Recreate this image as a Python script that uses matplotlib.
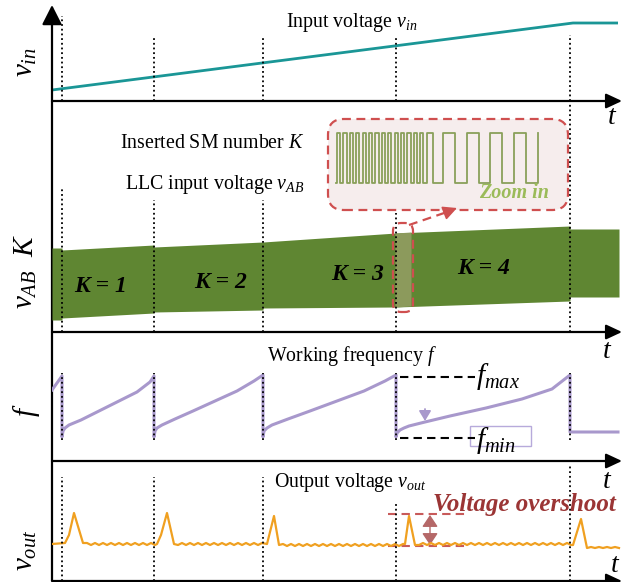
import matplotlib
matplotlib.use('Agg')
import matplotlib.pyplot as plt
from matplotlib.patches import FancyBboxPatch, Rectangle

plt.rcParams['font.family'] = ['Liberation Serif', 'DejaVu Serif']
plt.rcParams['mathtext.fontset'] = 'custom'
plt.rcParams['mathtext.rm'] = 'Liberation Serif'
plt.rcParams['mathtext.it'] = 'Liberation Serif:italic'
plt.rcParams['mathtext.bf'] = 'Liberation Serif:bold:italic'

# ---------------- data (arbitrary schematic units) ----------------
t_switch = [10, 102, 211, 344, 518]

# panel 1 : input voltage
vin_t = [0, 521, 566]
vin_v = [11, 78, 78]
p1_dot_top = [85, 65, 65, 65, 66]

# panel 2 : LLC input voltage band / inserted SM number
vab_t = [0, 10, 10, 102, 102, 211, 211, 344, 344, 518, 518, 567]
vab_top = [84, 84, 82, 87, 85, 90, 90, 99, 99, 106, 103, 103]
vab_bot = [12, 12, 14, 19, 20, 22, 24, 25, 25, 31, 35, 35]
hl_t = [343, 359]
hl_top = [99, 100]
hl_bot = [25, 26]
K_text = ['K = 1', 'K = 2', 'K = 3', 'K = 4']
K_t = [49, 169, 306, 432]
K_v = [45, 50, 57, 64]
p2_dot_top = [145, 132, 132, 119, 231]
SQ_HI, SQ_LO = 199, 149
sq_edges = [284, 285, 288.2, 291.4, 294.6, 297.8, 301, 304.2, 307.4, 310.6, 313.8,
            317, 320.2, 323.4, 326.6, 329.8, 333, 336.2, 339.4, 342.6, 345.8,
            349, 352.2, 355.4, 358.6, 361.8, 365, 368.2, 371.4, 374.6, 381,
            391, 403, 415, 427, 438, 450, 462, 474, 486]
sq_state = ['L', 'H', 'L', 'H', 'L', 'H', 'L', 'H', 'L', 'H', 'L',
            'H', 'L', 'H', 'L', 'H', 'L', 'H', 'L', 'H', 'L',
            'H', 'L', 'H', 'L', 'H', 'L', 'H', 'L', 'H', 'L',
            'H', 'L', 'H', 'L', 'H', 'L', 'H', 'L', 'H']

# panel 3 : working frequency
f_t = [0, 10, 10, 11, 13, 17, 29, 45, 65, 85, 98, 102,
       102, 103, 105, 110, 123, 141, 163, 185, 202, 211,
       211, 212, 215, 220, 236, 258, 285, 312, 333, 344,
       344, 345, 348, 352, 357, 373, 398, 434, 470, 500, 518,
       518, 566]
f_v = [71, 85, 24, 30, 33, 36, 41, 49, 59, 69, 79, 85,
       24, 30, 33, 36, 42, 50, 60, 70, 80, 86,
       24, 30, 33, 36, 42, 50, 60, 70, 80, 86,
       24, 28, 31, 33, 35, 39, 45, 53, 62, 72, 86,
       29, 29]
f_max_v, f_min_v = 84, 23

# panel 4 : output voltage
vout_t = [0, 13, 17, 22, 31,
          35, 39, 43, 47, 51, 55, 59, 63, 67, 71, 75, 79, 83, 87, 91, 95, 99, 103,
          105, 109, 115, 122,
          126, 130, 134, 138, 142, 146, 150, 154, 158, 162, 166, 170, 174, 178, 182,
          186, 190, 194, 198, 202, 206, 210,
          215, 222, 227,
          231, 235, 239, 243, 247, 251, 255, 259, 263, 267, 271, 275, 279, 283, 287,
          291, 295, 299, 303, 307, 311, 315, 319, 323, 327, 331, 335, 339, 343, 347, 351,
          353, 357, 363,
          367, 371, 375, 379, 383, 387, 391, 395, 399, 403, 407, 411, 415, 419, 423,
          427, 431, 435, 439, 443, 447, 451, 455, 459, 463, 467, 471, 475, 479, 483,
          487, 491, 495, 499, 503, 507, 511, 515, 519,
          521, 529, 535,
          539, 543, 547, 551, 555, 559, 563, 567]
vout_v = [37, 38, 46, 68, 38,
          38, 36, 38, 36, 38, 36, 38, 36, 38, 36, 38, 36, 38, 36, 38, 36, 38, 36,
          37, 46, 68, 37,
          36, 38, 36, 38, 36, 38, 36, 38, 36, 38, 36, 38, 36, 38, 36,
          38, 36, 38, 36, 38, 36, 38,
          37, 65, 36,
          37, 35, 37, 35, 37, 35, 37, 35, 37, 35, 37, 35, 37, 35, 37,
          35, 37, 35, 37, 35, 37, 35, 37, 35, 37, 35, 37, 35, 37, 35, 37,
          37, 65, 36,
          36, 38, 36, 38, 36, 38, 36, 38, 36, 38, 36, 38, 36, 38, 36,
          38, 36, 38, 36, 38, 36, 38, 36, 38, 36, 38, 36, 38, 36, 38,
          36, 38, 36, 38, 36, 38, 36, 38, 36,
          36, 62, 33,
          34, 33, 34, 33, 34, 33, 34, 33]
p4_dot_top = [104, 104, 104, 79, 116]
os_top, os_bot = 67, 35

# ---------------- figure ----------------
W, H = 634, 582
fig = plt.figure(figsize=(W / 100, H / 100), dpi=100)

def px_axes(y0, y1, x0=52, x1=622):
    ax = fig.add_axes([x0 / W, 1 - y1 / H, (x1 - x0) / W, (y1 - y0) / H])
    ax.set_xlim(0, x1 - x0)
    ax.set_ylim(0, y1 - y0)
    for s in ax.spines.values():
        s.set_visible(False)
    ax.set_xticks([]); ax.set_yticks([])
    ax.patch.set_alpha(0)
    return ax

def ftext(x, y, s, **kw):
    fig.text(x / W, 1 - y / H, s, **kw)

ax1 = px_axes(5, 101)
ax2 = px_axes(101, 332)
ax3 = px_axes(332, 461)
ax4 = px_axes(461, 581)

harrow = dict(arrowstyle='-|>,head_length=0.6,head_width=0.28', mutation_scale=16,
              color='k', lw=1.6, shrinkA=0, shrinkB=0)
for ax in (ax1, ax2, ax3, ax4):
    ax.annotate('', xy=(1.0, 0), xytext=(0, 0), xycoords='axes fraction',
                arrowprops=harrow, annotation_clip=False)
for ax in (ax2, ax3, ax4):
    ax.plot([0, 0], [0, 1], color='k', lw=1.6, transform=ax.transAxes,
            clip_on=False, solid_capstyle='butt')
ax1.annotate('', xy=(0, 1.0), xytext=(0, 0), xycoords='axes fraction',
             arrowprops=dict(arrowstyle='-|>,head_length=0.75,head_width=0.38',
                             mutation_scale=16, color='k', lw=1.6, shrinkA=0, shrinkB=0),
             annotation_clip=False)

dot = dict(color='k', lw=1.3, linestyle=(0, (1, 1.6)), zorder=6)
FS = 14.3

# panel 1
ax1.plot(vin_t, vin_v, color='#1a9696', lw=2.0, solid_capstyle='butt')
for t, top in zip(t_switch, p1_dot_top):
    ax1.plot([t, t], [0, top], **dot)
ax1.text(300, 79, 'Input voltage $v_{in}$', fontsize=FS, ha='center', va='center')

# panel 2
ax2.fill_between(vab_t, vab_bot, vab_top, color='#5f8632', lw=0, zorder=2)
ax2.fill_between(hl_t, hl_bot, hl_top, color='#8c9a5c', lw=0, zorder=3)
for t, top in zip(t_switch, p2_dot_top):
    ax2.plot([t, t], [0, top], **dot)
for s, t, v in zip(K_text, K_t, K_v):
    ax2.text(t, v, s, fontsize=17, fontweight='bold', style='italic',
             ha='center', va='center', zorder=7)
ax2.text(252, 189, 'Inserted SM number $K$', fontsize=FS, ha='right', va='center')
ax2.text(252, 147, 'LLC input voltage $v_{AB}$', fontsize=FS, ha='right', va='center')

red = '#cf4f4f'
zbox = FancyBboxPatch((276, 122), 240, 91, boxstyle='round,pad=0,rounding_size=16',
                      facecolor='#f6eded', edgecolor=red, lw=1.6,
                      linestyle=(0, (4, 2.5)), zorder=4)
ax2.add_patch(zbox)
hbox = FancyBboxPatch((341, 20), 20, 89, boxstyle='round,pad=0,rounding_size=8',
                      facecolor='none', edgecolor=red, lw=1.6,
                      linestyle=(0, (4, 2.5)), zorder=8)
ax2.add_patch(hbox)
sq_v = [SQ_HI if s == 'H' else SQ_LO for s in sq_state]
ax2.plot(sq_edges, sq_v, drawstyle='steps-post', color='#8aa05a', lw=1.3, zorder=5)
ax2.text(462, 139, 'Zoom in', fontsize=14.5, fontweight='bold', style='italic',
         color='#9bbb59', ha='center', va='center', zorder=6)
ax2.plot([357, 398], [107, 121], color=red, lw=1.6, linestyle=(0, (4, 2.5)), zorder=8)
ax2.annotate('', xy=(405, 124), xytext=(396, 120.5),
             arrowprops=dict(arrowstyle='-|>,head_length=0.6,head_width=0.3',
                             mutation_scale=14, color=red, lw=1.2, shrinkA=0, shrinkB=0),
             zorder=8)

# panel 3
purple = '#a898cc'
ax3.plot(f_t, f_v, color=purple, lw=2.2, zorder=4)
for t in t_switch:
    ax3.plot([t, t], [21, 88], **dot)
ax3.plot([348, 423], [f_max_v, f_max_v], color='k', lw=1.5, linestyle=(0, (4, 2.5)))
ax3.plot([348, 423], [f_min_v, f_min_v], color='k', lw=1.5, linestyle=(0, (4, 2.5)))
ax3.text(424, f_max_v, '$f_{max}$', fontsize=21, ha='left', va='center')
ax3.text(424, f_min_v - 3, '$f_{min}$', fontsize=21, ha='left', va='center')
ax3.add_patch(Rectangle((418, 15), 61, 20, facecolor='none', edgecolor='#b7aadb', lw=1.0))
ax3.annotate('', xy=(373, 40), xytext=(373, 52),
             arrowprops=dict(arrowstyle='-|>,head_length=0.5,head_width=0.3',
                             mutation_scale=12, color=purple, lw=1.3, shrinkA=0, shrinkB=0))
ax3.text(300, 105, 'Working frequency $f$', fontsize=FS, ha='center', va='center')

# panel 4
ax4.plot(vout_t, vout_v, color='#f0a020', lw=1.6, zorder=4)
for t, top in zip(t_switch, p4_dot_top):
    ax4.plot([t, t], [0, top], **dot)
dred = '#c85a5a'
ax4.plot([336, 413], [os_top, os_top], color=dred, lw=1.5, linestyle=(0, (4, 2.5)))
ax4.plot([336, 413], [os_bot, os_bot], color=dred, lw=1.5, linestyle=(0, (4, 2.5)))
ax4.annotate('', xy=(378, os_top - 1), xytext=(378, os_bot + 1),
             arrowprops=dict(arrowstyle='<|-|>,head_length=0.6,head_width=0.4',
                             mutation_scale=12, color='#b56868', lw=1.0, shrinkA=0, shrinkB=0))
ax4.text(472, 77, 'Voltage overshoot', fontsize=18, fontweight='bold', style='italic',
         color='#9b3535', ha='center', va='center')
ax4.text(298, 98, 'Output voltage $v_{out}$', fontsize=FS, ha='center', va='center')

# left axis labels
lab = dict(fontsize=21, rotation=90, ha='center', va='center')
ftext(26, 62, '$v_{in}$', **lab)
ftext(26, 245, '$K$', **lab)
ftext(26, 289, '$v_{AB}$', **lab)
ftext(27, 410, '$f$', **lab)
ftext(26, 550, '$v_{out}$', **lab)

# time labels
for x, y in [(612, 117), (607, 352), (607, 481), (615, 565)]:
    ftext(x, y, '$t$', fontsize=20, ha='center', va='center')

fig.savefig('out.png', dpi=100)
